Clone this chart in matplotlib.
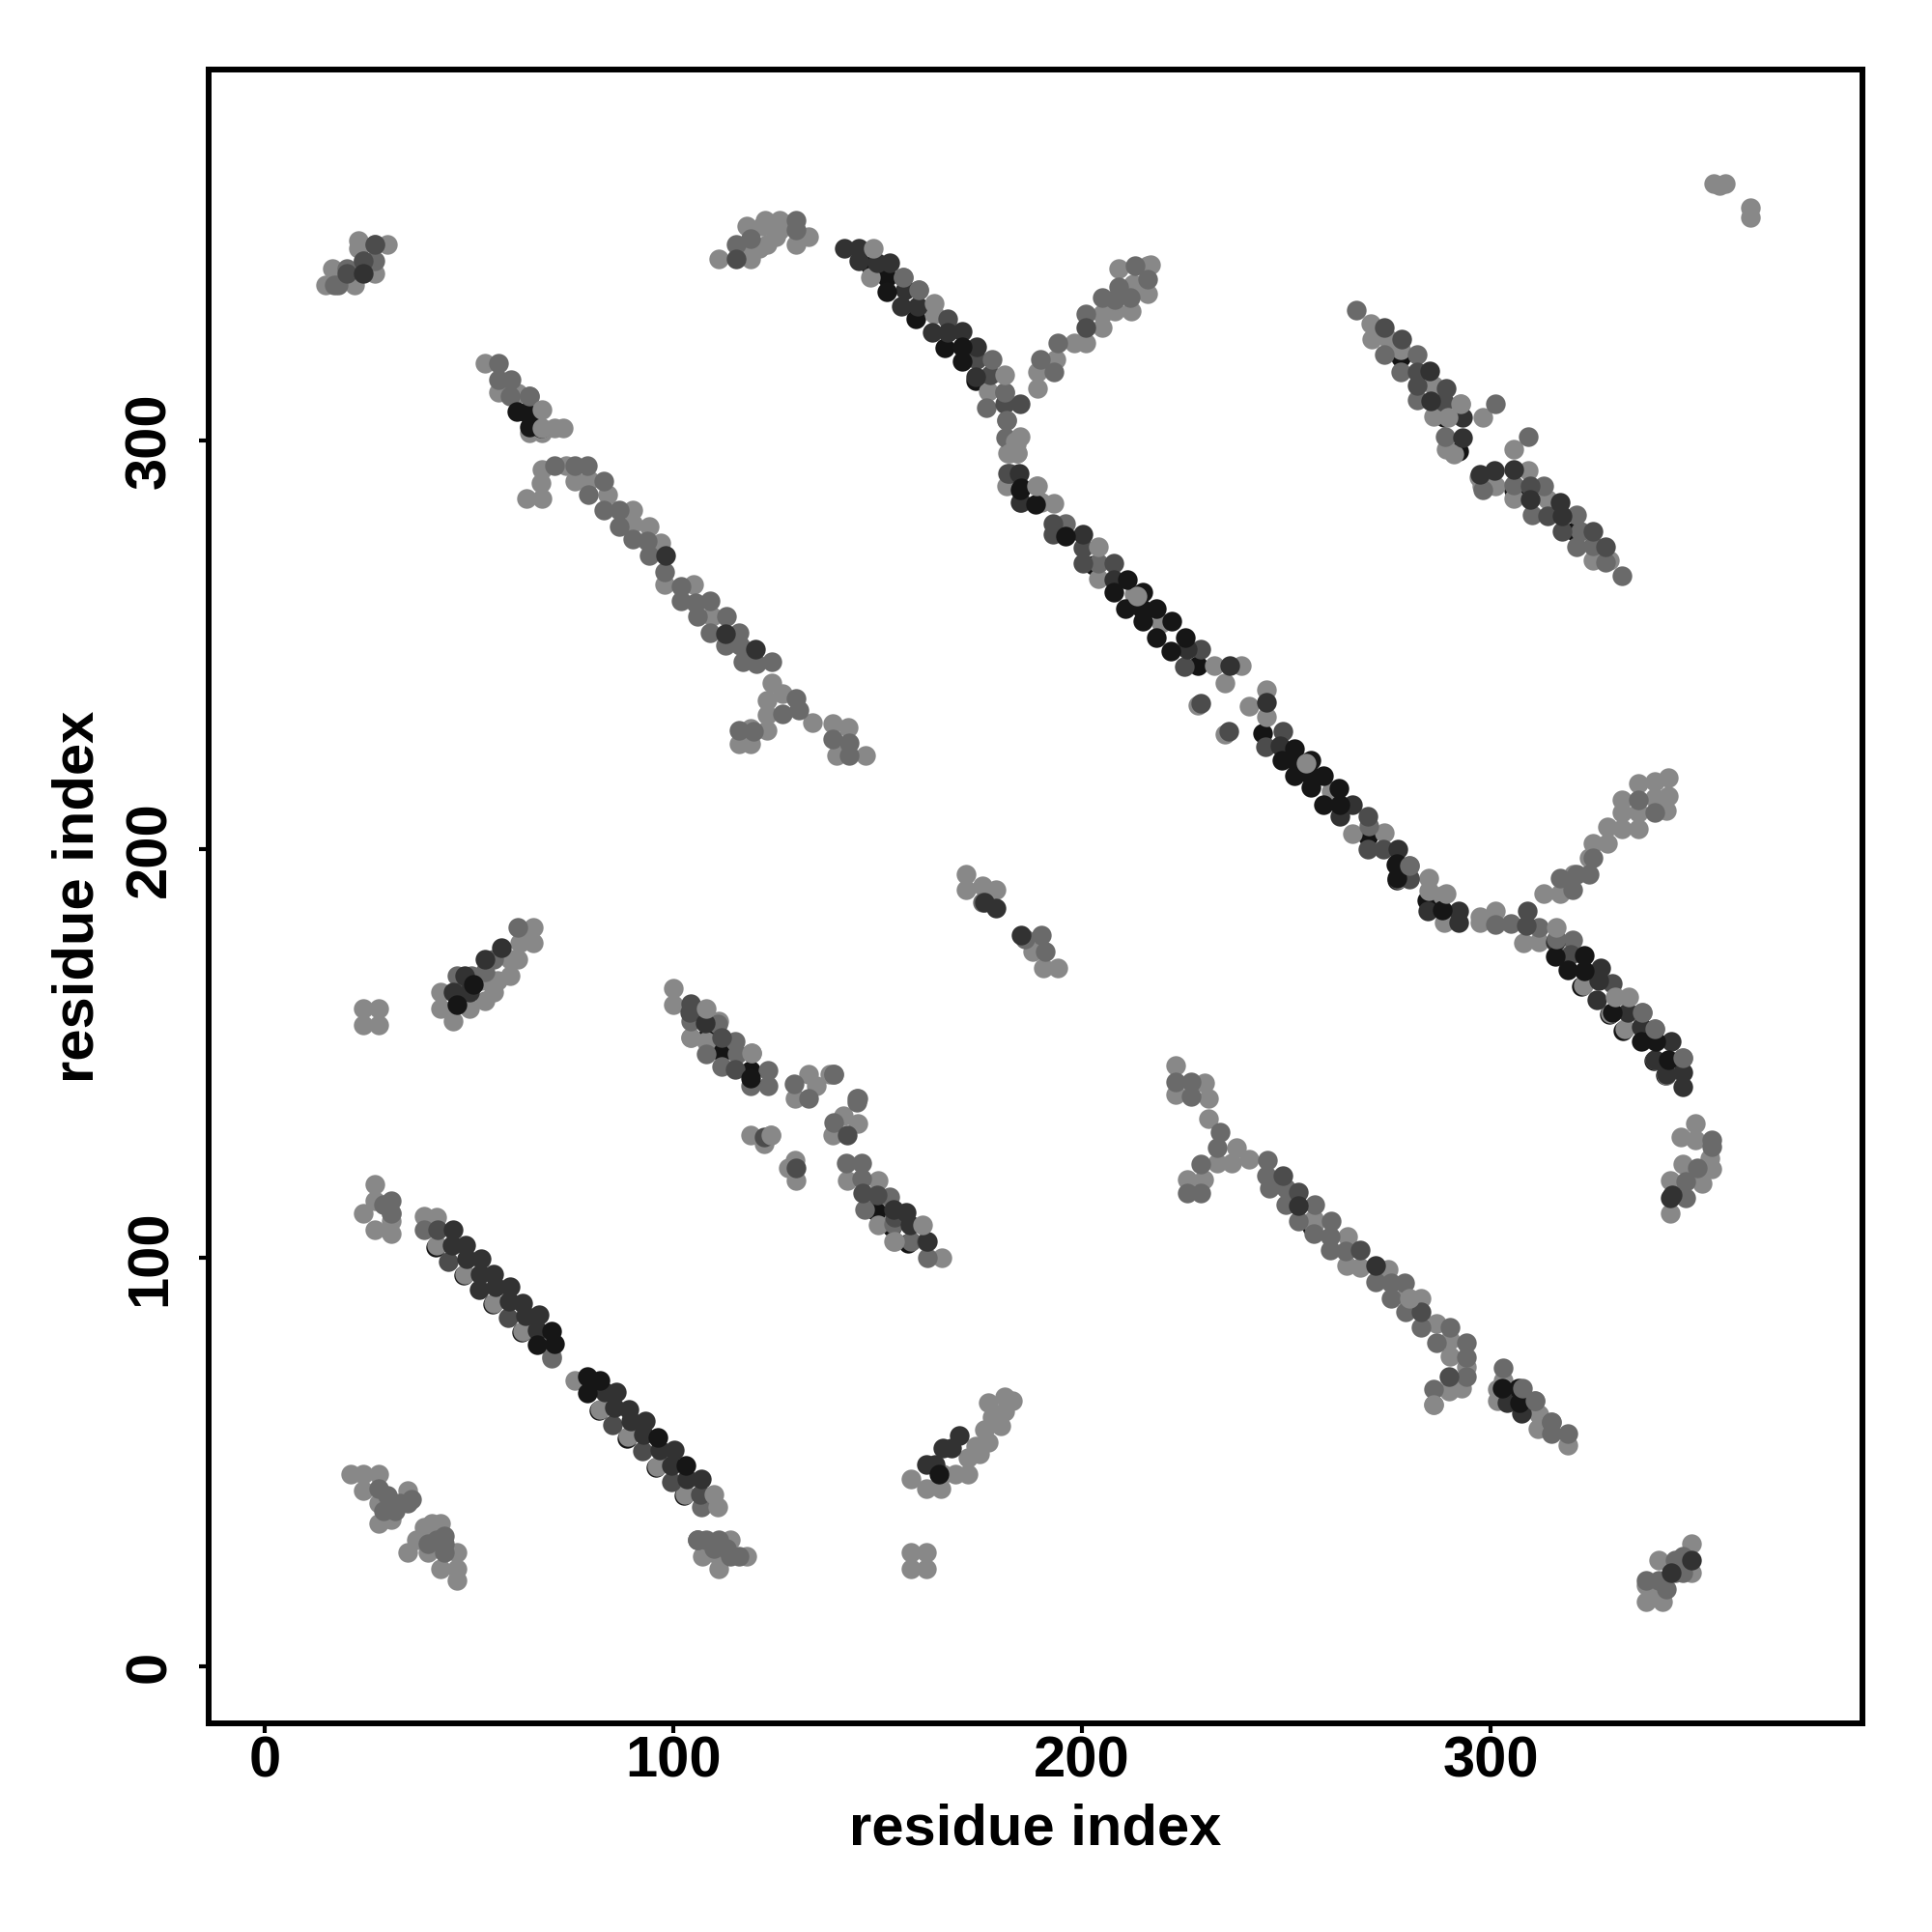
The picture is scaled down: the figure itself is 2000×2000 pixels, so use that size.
import matplotlib
matplotlib.use("Agg")
import matplotlib.pyplot as plt

X_LABEL = "residue index"
Y_LABEL = "residue index"
TICKS = [0, 100, 200, 300]

# contacts, grouped by grey level (drawn from first to last list)
black_under = [
 (41.8,102.7),(48.7,95.8),(55.8,88.7),(62.9,81.8),(81.8,62.7),(88.6,55.9),(95.7,48.7),(102.5,41.8),
 (278,320.3),(288.6,305.7),(292,297.5),(305.6,288),(320.5,277.9),(256.3,107.6),
 (149.5,111.5),(153.5,107.6),(157.4,103.6),(108.1,153.7),(111.8,150.5),(118.8,146),
 (148.3,342.8),(152.2,340),(159.3,329.8),(166.4,322.7),(173.9,314.8),
 (322.2,166.4),(329,159.6),(332.4,155.5),(339.8,148.2),(342.7,144.6),(284.4,187.6),(277,192.4),
 (202.7,269.5),(244.1,228.5),(270,203.2),(228.4,245),
]
light_pts = [
 # top left
 (15,338),(22,338),(16.5,342),(23,349),(23,347),(30,348),(27,341),(21,340),
 # bottom left
 (21,47),(24,47),(28,47),(24,43),(35,43),(28,35),(31,36),(28,40),(32,40),
 (41,35),(43,35),(39,34),(40,32),(37,31),(35,28),(40,28),(47,28),(43,24),(47,24),(47,21),
 (106,31),(114,31),(107,27),(111,27),(118,27),(111,24),
 (158,28),(162,28),(158,24),(162,24),
 (38.9,110.3),(42,110),(42.1,103),(49,96.1),(56.1,89),(63.2,82.1),(70.1,76),(75.8,70.1),(82.1,63),(88.9,56.2),(96,49),(102.8,42.1),
 (158,46),(162,43.5),(165.5,43.5),(169,47),(172,51),(174,54),(177,55),(178,61),(181,62.5),(177,64.6),(181,66),(183,65),
 (166,47),(172,47),(176,58),(180,59),(175,52),
 (338,16),(338,20),(342,16),(341,26),(349,30),(349,23),(340,18),
 (43,165),(43,161),(46,158),(50,161),(54,163),(57,168),(60,173),(62.5,177),(65.6,177),(65.6,181),(64,180),
 (60,169),(53,168),(62,173),(56,165),
 (24,161),(28,161),(24,157),(28,157),
 (27,118),(24,111),(27,114),(31,111),(27,107),(31,106),(31,109),
 # central left group
 (100,166),(100,162),(104.2,153.9),(119,130),(122.1,128),(129.8,124),(128.2,122),(130,119),
 (129.8,139.1),(133,145),(135,142.1),(138.3,145),(141.6,134.8),(145.2,132.8),(138.9,130),
 (142.4,119),(150.1,119),(150.1,108),(153.8,104),(165.7,100),
 # long lower right band
 (222.9,147),(222.9,140),(230,142.9),(230.8,139),(231,134),(237.7,127),(233,123.3),(236.5,123.3),(240.9,124.1),(229.8,119.2),(225.7,119.2),
 (256.6,109.5),(256.6,108),(264.9,105.2),(264.7,98.1),(268,97.7),(274.9,97.1),(279.1,90.6),(283,90),(286.7,84),(290.1,80),(290.1,76),(294,73.3),(289.7,67.4),(292.9,68.1),(286,64),
 (302.9,70.1),(301.5,68),(301.5,65),(311.8,61.8),(311.4,58.3),(318.9,54.1),
 # right cluster
 (349.9,132.8),(346.5,129.7),(349.9,128.9),(353.6,124.5),(346.9,123),(354,121.8),(343.8,119),(351.6,118.2),(343.9,110.9),
 # main band junction
 (297.3,183.6),(297.3,182),(301,184.8),(307.9,177),(311.8,177.3),(312.8,189.2),(317,189.2),(320.3,193.9),(324,197.8),
 (325,201.5),(328.4,201.5),(328.4,205.4),(332,205),(332,209),(336,205),(336,209),(332,212),(336,216),(340,216.5),(343.5,217.5),(343.5,213),(343,209.6),(340,212.6),
 (322.5,166.7),(329.2,159.8),(332.7,156),(340,148.4),(343,144.8),(288.6,182),
 # vertical part and branch
 (183.8,299),(181.8,297),(184.2,297),(177,312),(181.4,288.8),
 (189,312.8),(189,316.8),(193.6,320),(198,323.9),(201,323.9),(205,327.8),(205,331),(208,331.7),(212,331.7),(216,335.9),(212.5,338.4),(216,342.8),(209,342),(216.8,343),
 (148.3,340),(163.7,330.9),
 # top clusters
 (111,344.4),(119,344.4),(123,348),(118,352.4),(121.6,352.4),(122.4,354),(126,354),(126,351.6),(130,348),(133,350),
 (117,346),(121,347),(125,350),(128,353),(131,350),
 # upper left band
 (54,318.9),(57.3,311.8),(62,311.6),(64.8,301.8),(67.9,301.8),(71,303),(73,303),
 (67.9,292.9),(67.5,289.7),(64,285.9),(67.9,285.9),(73.8,293.9),(75.8,290),(79.3,290.4),(84,286.8),(90.1,282.9),(90,279.7),(94,279),(97,275),(97.9,264.8),(105,264.8),(109.5,257),
 (124,240.7),(123,236.4),(126.6,238),(123,232.8),(134,230.9),(123,229),(119,229.7),(119,225.7),(116,225.7),
 (139,230.7),(142.8,229.8),(140,223),(147,223),
 # upper right band
 (270.5,328.6),(270.9,324.9),(274.8,324.9),(278,322.3),(285.9,313.6),(285.9,306),(292.6,308.9),(298,305.7),
 (289,297.9),(291,296.7),(305.6,297.9),(297.7,288.8),(301,288.8),(297,291),(309.1,292.7),(305.7,285.8),(313.8,285.6),(324.9,270.7),(329,270.8),
 (354.4,363),(357.4,363),(356,362.5),(363.4,357),(363.4,354.7),
 (171.6,194),(171.6,190),(175.5,191),(179,190),(188,175),(190.4,171),(194,171),
 (232.3,245),(239,245),(235,240.7),(228.2,235.2),(235,228.1),(245,239.1),(240.9,235),(245,232.4),
 (203.9,266.3),(193,284.7),(189.9,284.9),(189,288.8),(212.6,262.4),(219.3,255.3),(254,221.4),(261,214.3),
 (266.2,203.7),(274,204),(284.7,193),(284.7,189.9),(277.2,192.8),(288.2,188.7),
 (104.2,154),(111,158),(108,153),(123.9,130),
]
mid_pts = [
 (18,338),(17,338),(27,344),(24,344),(27,348),(20,342),
 (28,43.5),(35,40),(44,32),(44,28),(106,31),(111,31),(114,27),
 (30,42),(32,38),(29,38),(33,40),(36,41),(40,30),(42,31),(44,30),
 (105.8,31),(108,31),(110,29),(113,29),(116,27),
 (29,113),(31,114),(31,111),
 (338,21),(341,21),(345,26),(347,23),(343,19),(345,23),(347,27),
 (47,169),(50.5,169),(54,170),(56,173),(62,181),
 (39.1,106.9),(70.1,75.5),(106.9,39),
 (104.2,158),(110.9,157.2),(107.9,150),(115.2,153.1),(115.6,150),(111.8,146.8),(123.1,146),(118.9,142.1),(123.1,142.1),
 (129.4,142.6),(133,139.1),(139.3,145),(144.8,139.1),(144.8,138),(139.3,133.2),
 (142.3,123.2),(146,123.2),(146,119.4),(153,115),(146.8,111.9),(153.8,108.4),(158.2,104),(162.1,100),
 (222.9,143),(226.7,143),(226.7,139.5),(233.8,130.8),(233,126.9),(229,122.9),(225.7,115.8),(229,115.8),
 (245.4,123.9),(245.2,120.2),(245.7,117),(249.7,117),(249.8,113),(252.9,109.1),(257,113),(256.6,106),(261,109.1),(260.6,105.2),(260.7,101.9),(264.5,101.6),
 (271.8,94.1),(275.5,94),(278.8,94),(275.5,90.2),(279.1,86.8),(283,83.1),(286.7,79.2),(290,83.1),(294,79.2),(294,75.6),(294,70.9),(286,68),
 (302.9,73),(310.8,65),(314.8,59.9),(314.8,57.1),(318.9,57.1),
 (354,128.9),(354,127.3),(350.4,122),(347.7,118.6),(347.7,114.8),
 (301,181.5),(304.9,181.8),(311.8,180.9),(319.9,190),(317,192.9),(324,193.9),(321,194),(325,198),(336,212),(340,209),
 (280,196),(319.9,177.9),(340,156),(346.9,149),(337,160),
 (181,311.9),(176.6,308),(181.5,304.9),(181.2,300.8),(160,336.9),(156.2,339.9),
 (189.8,319.8),(193.2,316.8),(194,323.9),(201,331),(205,334.9),(208,334.5),(209,337.6),(211.7,334.9),(216,339.6),(212.9,342.8),
 (115.4,348),(119,349.5),(130,354),(130,351.6),
 (57.1,318.9),(57.1,315),(60.3,315),(60,311),(64.8,310.9),
 (71,293.9),(75.8,293.9),(79,293.9),(83,290),(79.2,286.8),(83,282.9),(86.7,282.9),(86.7,279),(90,275.8),(93.5,275.4),(94.1,271.8),(97.9,267.9),(101.8,264.4),(101.8,260.8),(105.3,260.4),(108.9,260.8),(106,257),(113,257),(109,252.9),(116,252.9),(112.8,249.8),(116.4,249.8),(117,245.8),(120.3,245.4),(124,245.8),
 (130,236.9),(130.6,234),(126.6,233.2),(116,229),(119.5,228.9),(139,227),(143,226),(143,223),
 (267,331.9),(273.9,321),(278,316.8),(282,321),(282,309.9),(298,288),(301,308.9),(309.1,301),
 (288.9,301),(305.7,289.2),(313,288.9),(310.1,281.9),(321,281.9),(322,277.9),(320.9,274),(324.9,274.2),(328,270.3),(332,266.9),
 (175.5,187),(190,179),(191,175),(186,178),
 (196,279.7),(204,269.9),(270.1,205.6),
]
dark_mid = [
 (24,344),(27,348),(20,341),
 (42.3,106.9),(45,99),(59.5,85.5),(85.2,59.1),(92.3,52.8),(99.4,45.1),(106.5,42.1),
 (104.2,162.1),(111.8,154),(115.2,146.2),(122.1,129.6),(130,122),(142.4,130),(146.4,115.8),(149.9,115.5),
 (249,120.2),(252.9,116),(267.9,101.9),(283,86.7),(289.7,70.9),
 (274,327.8),(278.1,324.9),(282,316.8),(282,313.6),(288.6,309.4),(289,312.8),(309.5,288.9),(313.8,281.7),(317.4,277.9),(325,277.9),(328,274),
 (308.9,185),(308.7,181.3),(319.6,174.2),(329.8,167.1),(280,192.9),
 (181.8,292),(181,308.9),(184.9,308.9),(177.4,316),(174.3,319.9),(167,329.9),(201,327.6),
 (182.2,292),(185,284.9),(192.9,279.7),(192.9,277),(200.1,273.8),(200.1,269.9),(207.8,269.9),
 (229.1,249),(225,244.8),(229,235.8),(235.8,228.9),(249.2,228.9),(244.9,225),(270,208),(270,200.1),(273.6,200.1),(280,192.8),
 (47.4,165),(104,160),(154,110),(162,104),(115.4,344.4),
]
dark_pts = [
 (24,341),(164,49.5),(162,49.5),(166,53.5),(168,53.5),(170,56.5),(349,26),(344,23),
 (46,165),(50,165),(50.5,167),(54,173),(58,176),(49,169),
 (46,106.9),(45.8,103.2),(49.1,103),(49.4,99.8),(53,99.9),(52.7,96.1),(56.1,96),(52.4,92.2),(56.6,93),(60.1,93),(59.8,89.3),(63.2,89),(63.7,85.9),(67.1,86),(66.7,82.3),
 (83.1,67.2),(86,67.2),(85.6,63.4),(89,63),(89.6,60.1),(93.1,60.1),(92.6,56.7),(96.7,53),(100.2,53),(99.6,49.2),(103.4,46),(106.9,46),
 (98,271.8),(112.7,252.7),(120,249),
 (107.7,157.6),(153.8,111.9),(157,111.1),(157.8,108),(162.1,104),
 (252.9,112.7),(271.8,98.1),(303.9,64.6),(307.5,61.9),
 (344.4,115.4),(343.8,114.8),
 (285.1,317),(285.2,309.7),(293.1,305.7),(293.1,300.8),(297.3,291.8),(300.8,292.7),(305.7,292.9),(309.5,285.6),(317,284.9),(317.5,281.7),
 (284.6,184.8),(292,184.8),(292,182),(315.8,177.3),(326.8,170.9),(326.4,167.9),(326,163.2),(333.5,160),(336.7,156.5),(344,152.9),(340.2,148.6),(343,145),(346.9,145.4),(346.9,141.9),
 (179,185.5),(185,179),(176,187),
 (141.8,347),(145.4,347),(145.4,344),(149.9,343.5),(153,343.5),(156.7,336.9),(159.7,332.9),(155.8,332.9),(163.2,326.6),(167.2,326.6),(170.7,326.8),(174.1,323),(173.9,315.6),
 (184.6,292),(184.9,284.8),(200.1,277),(207.8,265.9),(225.6,249),(236,245),(245,236),(248.4,225.4),(266.2,210.8),(263,208),(277.2,200.1),
]
black_top = [
 (165,47),(47,162),(51,167),(119,144),
 (70.1,82.1),(66.7,78.8),(71,78.9),(79,71),(82.1,70.1),(79,67),(96.1,56.1),(103,49.2),
 (65.5,306),(64,306.9),(67.5,303),(64.8,303.4),(61.6,307),
 (302.7,68.1),(306.7,68.1),(306.9,64.6),
 (152.2,336.5),(170.7,323),(170.6,319.5),(184.9,288),(185,288.4),(188.5,284.4),(196,276.6),
 (322.9,174),(322.9,170.2),(318.9,170.6),(315.8,173.8),(329.6,160),(336.7,152.9),(340.4,152.9),(343.4,148.6),(288.2,185.2),(277,196.6),(277,192.9),
 (211,265.9),(207.8,262.8),(210.6,258.8),(214.8,262.8),(214.5,258.8),(218.1,258.8),(214.9,255.9),(221.9,255.9),(218.1,251.8),(225.2,251.8),(221.6,248.6),
 (252,224.6),(248.8,221.8),(252,221.8),(255.9,221.8),(252,217.9),(255.9,217.9),(259,217.9),(255.9,215.1),(262.9,214.9),(259,210.8),(263,210.8),(276.8,196.2),
]
mid_top = [
 (280,196),(315.9,178),(156.2,339.9),(160,336.9),(178,319.8),(181,311.9),(64.8,310.9),(307.8,68.1),(310.8,65),(314.8,59.9),(340,156),(346.9,149),(336.9,160),
 (119.2,150.1),(139.3,145),(145,139),(181.5,304.9),
]
light_top = [
 (110,42.1),(110.8,39),(108,161),(123.9,130),(119.2,150.1),(161,108),(154,104),(163.8,333.7),(149,347),(181,316),(188.9,288.8),
 (330.4,163.9),(333.7,163.9),(289,189.2),(315.9,180.9),(67.9,307.7),(67.9,303),(286,64),(280,90),(204,274),(184.9,301),(183.7,299.8),(182.2,297),(184,297),
 (213.5,262),(254.7,221),(292.6,308.9),(289.4,305.7),
]
GREYS = ["#141414", "#888888", "#6a6a6a", "#4c4c4c", "#323232", "#161616", "#6a6a6a", "#888888"]
layers = [black_under, light_pts, mid_pts, dark_mid, dark_pts, black_top, mid_top, light_top]

plt.rcParams["font.family"] = ["Liberation Sans", "DejaVu Sans"]
plt.rcParams["font.weight"] = "bold"
fig = plt.figure(figsize=(20, 20), dpi=100, facecolor="white")
L, R, T, B = 216, 1928, 72, 1784
ax = fig.add_axes([L/2000, 1-B/2000, (R-L)/2000, (B-T)/2000])
for z, (pts, col) in enumerate(zip(layers, GREYS)):
    ax.scatter([p[0] for p in pts], [p[1] for p in pts], s=215, c=col, linewidths=0, zorder=z+2)
ax.set_xlim(-13.7, 390.9)
ax.set_ylim(-13.9, 390.8)
ax.set_xticks(TICKS)
ax.set_yticks(TICKS)
ax.tick_params(length=7, width=3, labelsize=43)
ax.tick_params(axis="x", pad=2)
ax.tick_params(axis="y", pad=16.5)
for lab in ax.get_yticklabels():
    lab.set_rotation(90)
    lab.set_va("center")
for s in ax.spines.values():
    s.set_linewidth(4.3)
ax.set_xlabel(X_LABEL, fontsize=43, fontweight="bold", labelpad=11)
ax.set_ylabel(Y_LABEL, fontsize=43, fontweight="bold", labelpad=14.5)
fig.savefig("out.png", dpi=100, facecolor="white")
